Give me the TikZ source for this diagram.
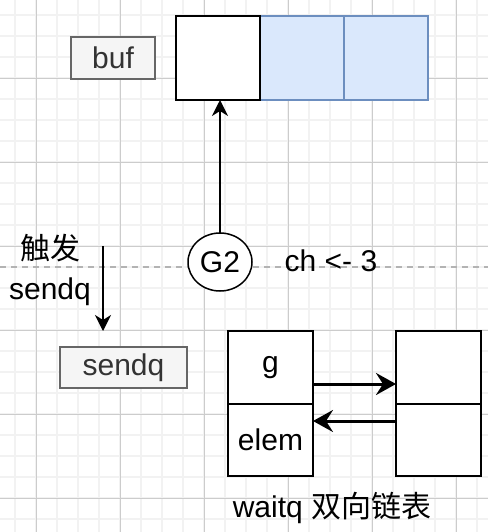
\documentclass[tikz,border=0pt]{standalone}
\usepackage{fontspec}
\setmainfont{Liberation Sans}
\newfontfamily\cjk{Noto Sans CJK SC}
\usetikzlibrary{arrows.meta,shapes.geometric}

\definecolor{gridminor}{HTML}{F2F2F2}
\definecolor{gridmajor}{HTML}{CCCCCC}
\definecolor{boxgray}{HTML}{F5F5F5}
\definecolor{boxline}{HTML}{666666}
\definecolor{bluefill}{HTML}{DAE8FC}
\definecolor{blueline}{HTML}{6C8EBF}
\definecolor{dashgray}{HTML}{B3B3B3}

\tikzset{
	every node/.style={font=\fontsize{30}{40}\selectfont, inner sep=0pt, outer sep=0pt},
	namebox/.style={draw=boxline, fill=boxgray, line width=1.4pt, text=black!80},
	cellw/.style={draw=black, fill=white, line width=1.6pt, minimum width=84pt, minimum height=84pt},
	cellb/.style={draw=blueline, fill=bluefill, line width=1.6pt, minimum width=84pt, minimum height=84pt},
	halfcell/.style={draw=black, fill=white, line width=1.6pt, minimum width=85pt, minimum height=72.5pt},
	ptr/.style={line width=1.5pt, -{Stealth[length=16pt,width=16pt,inset=5pt]}},
	link/.style={line width=3pt, -{Stealth[length=20pt,width=22pt,inset=7pt]}}
}

\begin{document}
\begin{tikzpicture}[x=1pt,y=-1pt]
	\useasboundingbox (0,0) rectangle (488,532);
	% grid
	\foreach \k in {0,...,22} {
		\draw[gridminor, line width=1.5pt] (15+21*\k,0) -- (15+21*\k,532);
	}
	\foreach \k in {0,...,24} {
		\draw[gridminor, line width=1.5pt] (0,15+21*\k) -- (488,15+21*\k);
	}
	\foreach \x in {36,120,204,288,372,456}
		\draw[gridmajor, line width=0.9pt] (\x,0) -- (\x,532);
	\foreach \y in {78,162,246,330,414,498}
		\draw[gridmajor, line width=0.9pt] (0,\y) -- (488,\y);

	\draw[dashgray, line width=1.3pt, dash pattern=on 6pt off 5pt] (0,267) -- (488,267);

	% buf
	\node[namebox, minimum width=84pt, minimum height=42pt] (buf) at (113,58) {buf};
	\node[cellw] (c1) at (218,58) {};
	\node[cellb] (c2) at (302,58) {};
	\node[cellb] (c3) at (386,58) {};
	\draw[black, line width=1.6pt] (c1.north east) -- (c1.north west) -- (c1.south west) -- (c1.south east) -- cycle;

	% G2
	\node[ellipse, draw=black, fill=white, line width=1.5pt, minimum width=64pt, minimum height=58pt] (g2) at (220,262) {G2};
	\draw[ptr] (g2.north) -- (g2.north |- c1.south);
	\node (send) at (331,261) {ch <- 3};

	% trigger
	\node[align=center] (trig) at (50,270) {{\cjk 触发}\\sendq};
	\coordinate (t0) at (103,246);
	\coordinate (t1) at (103,331);
	\draw[ptr] (t0) -- (t1);
	\node[namebox, minimum width=127pt, minimum height=41pt] (sendq) at (123.5,367.5) {sendq};

	% waitq
	\node[halfcell] (w1g) at (270.5,367.5) {g};
	\node[halfcell] (w1e) at (270.5,440) {elem};
	\node[halfcell] (w2g) at (438.5,367.5) {};
	\node[halfcell] (w2e) at (438.5,440) {};
	\draw[link] ([yshift=-16.5pt]w1g.east) -- ([yshift=-16.5pt]w2g.west);
	\draw[link] ([yshift=19pt]w2e.west) -- ([yshift=19pt]w1e.east);
	\node (wq) at (332,508) {waitq {\cjk 双向链表}};
\end{tikzpicture}
\end{document}
